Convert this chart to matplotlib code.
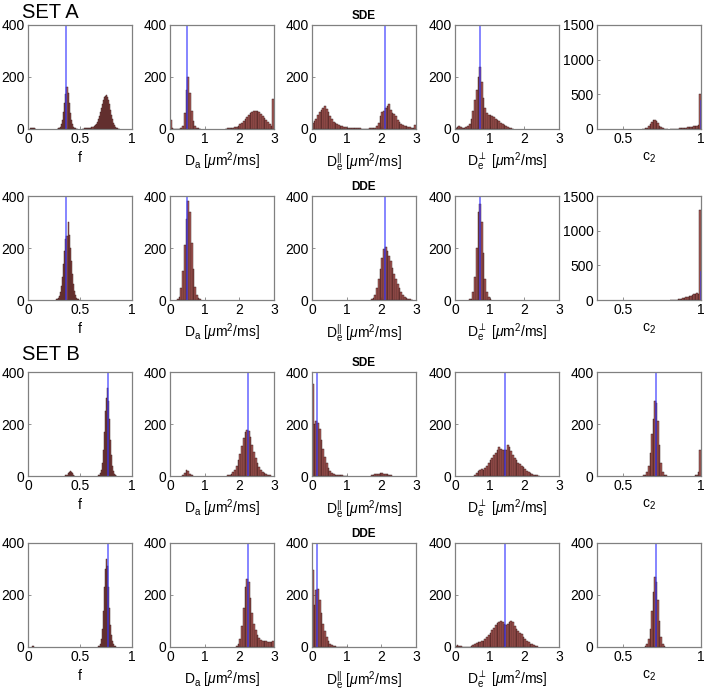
import numpy as np
import matplotlib
matplotlib.use('Agg')
import matplotlib.pyplot as plt

plt.rcParams['font.family'] = ['Liberation Sans', 'DejaVu Sans']
plt.rcParams['mathtext.fontset'] = 'custom'
plt.rcParams['mathtext.rm'] = 'Liberation Sans'
plt.rcParams['mathtext.it'] = 'Liberation Sans:italic'
plt.rcParams['mathtext.fallback'] = 'stixsans'

# ---------- histogram counts: (first bin left edge, counts) segments ----------
BW = {'f': 0.01, 'da': 0.05, 'dpar': 0.05, 'dperp': 0.05, 'c2': 0.01}

# SET A, SDE
a_sde_f = [(0.02, [2, 4, 5, 4, 2, 1]),
           (0.28, [1, 2, 4, 8, 18, 35, 65, 100, 135, 160, 140, 100, 62, 35, 18, 8, 4, 2, 1, 1]),
           (0.52, [1, 1, 2, 2, 2, 3, 3, 4, 5, 6, 8, 10, 14, 20, 28, 38, 50, 64, 80, 96, 110,
                   122, 128, 130, 124, 112, 95, 75, 55, 38, 24, 14, 8, 4, 2, 1])]
a_sde_da = [(0.0, [35, 2, 1, 1, 1, 1, 2, 10, 60, 150, 200, 140, 70, 30, 12, 5, 2, 1]),
            (1.6, [1, 2, 2, 3, 4, 6, 9, 13, 18, 24, 31, 39, 47, 55, 61, 66, 69, 70, 68, 64,
                   58, 50, 42, 34, 26, 18, 10, 115])]
a_sde_dpar = [(0.0, [25, 30, 40, 55, 65, 75, 82, 90, 78, 65, 50, 38, 28, 22, 18, 15, 12, 10, 8, 6,
                     5, 4, 3, 3, 2, 2, 2, 2, 1, 1, 1, 1, 1, 2, 2, 3, 5, 10, 25, 50,
                     65, 70, 80, 88, 95, 75, 62, 58, 50, 35, 28, 20, 15, 12, 10, 8, 6, 5, 4, 15])]
a_sde_dperp = [(0.0, [3, 8, 10, 6, 5, 5, 8, 12, 20, 40, 70, 110, 150, 200, 240, 180, 120, 80, 60,
                      55, 52, 50, 45, 40, 35, 30, 25, 20, 15, 10, 6, 3, 2, 1])]
a_sde_c2 = [(0.62, [1, 3, 8, 20, 42, 75, 105, 125, 130, 110, 80, 48, 25, 10, 4, 2, 1]),
            (0.80, [2, 2, 3, 4, 5, 6, 8, 10, 12, 15, 18, 22, 26, 30, 35, 40, 45, 50, 55, 500])]

# SET A, DDE
a_dde_f = [(0.27, [2, 4, 8, 15, 30, 55, 90, 140, 190, 235, 245, 300, 250, 200, 150, 100, 60, 35,
                   18, 8, 4, 2])]
a_dde_da = [(0.2, [3, 12, 45, 110, 210, 310, 380, 340, 220, 120, 50, 20, 8, 3])]
a_dde_dpar = [(1.7, [2, 8, 20, 45, 80, 120, 160, 195, 205, 190, 170, 150, 125, 100, 80, 60, 45,
                     30, 20, 12, 8, 5, 3, 1])]
a_dde_dperp = [(0.4, [2, 5, 30, 90, 200, 340, 370, 300, 180, 80, 30, 10, 3])]
a_dde_c2 = [(0.80, [1, 2, 3, 4, 6, 9, 13, 18, 24, 31, 38, 46, 55, 64, 73, 82, 92, 105, 90, 1300])]

# SET B, SDE
b_sde_f = [(0.36, [2, 5, 10, 16, 20, 17, 10, 4, 1]),
           (0.67, [2, 4, 10, 25, 50, 100, 170, 250, 300, 340, 290, 220, 140, 80, 40, 18, 8, 3, 1])]
b_sde_da = [(0.35, [4, 12, 25, 18, 8, 2]),
            (1.65, [2, 4, 8, 15, 25, 40, 60, 85, 115, 145, 170, 178, 172, 150, 120, 92, 68, 50,
                    35, 24, 16, 10, 6, 3, 2])]
b_sde_dpar = [(0.0, [355, 200, 210, 205, 180, 140, 105, 75, 50, 32, 20, 12, 8, 5, 4, 3, 2, 2, 1, 1, 1]),
              (1.7, [2, 4, 6, 8, 9, 10, 10, 9, 8, 6, 4, 2])]
b_sde_dperp = [(0.55, [3, 10, 20, 25, 28, 25, 30, 40, 50, 60, 70, 80, 90, 100, 112, 105, 100, 100,
                       100, 120, 110, 95, 80, 70, 60, 50, 45, 40, 35, 28, 20, 15, 10, 8, 5, 3, 2, 1])]
b_sde_c2 = [(0.63, [2, 5, 15, 40, 90, 160, 220, 290, 280, 210, 120, 50, 15, 5, 2]),
            (0.96, [3, 5, 15, 100])]

# SET B, DDE
b_dde_f = [(0.04, [3, 2]),
           (0.67, [2, 5, 12, 30, 70, 140, 230, 300, 340, 310, 230, 150, 85, 45, 22, 10, 5, 2])]
b_dde_da = [(1.9, [3, 10, 30, 80, 150, 230, 260, 250, 190, 130, 90, 65, 45, 35, 28, 25, 22, 22,
                   20, 20, 18, 25])]
b_dde_dpar = [(0.0, [295, 160, 220, 225, 180, 130, 90, 60, 38, 22, 12, 7, 4, 2, 1, 1, 1, 1, 1, 1, 1])]
b_dde_dperp = [(0.0, [2, 8, 4, 2, 1, 1, 1, 1, 1, 3, 8, 12, 15, 18, 20, 22, 25, 30, 38, 45,
                      55, 65, 75, 85, 92, 98, 100, 95, 90, 85, 90, 98, 100, 95, 80, 70, 60, 55, 50, 40,
                      32, 25, 18, 12, 10, 8, 5, 3])]
b_dde_c2 = [(0.64, [3, 10, 30, 70, 140, 210, 270, 250, 180, 100, 40, 12, 4])]

# ground-truth values (blue lines, drawn from 0 to 400 counts)
truth_a = [0.37, 0.50, 2.10, 0.73, 1.0]
truth_b = [0.77, 2.25, 0.15, 1.45, 0.71]
truth_line_top = 400

params = ['f', 'da', 'dpar', 'dperp', 'c2']
xlabels = ['f',
           r'D$_\mathregular{a}$ [$\mu$m$^\mathregular{2}$/ms]',
           r'D$_\mathregular{e}^\mathregular{||}$ [$\mu$m$^\mathregular{2}$/ms]',
           r'D$_\mathregular{e}^{\perp}$ [$\mu$m$^\mathregular{2}$/ms]',
           r'c$_\mathregular{2}$']
xlims = {'f': (0, 1), 'da': (0, 3), 'dpar': (0, 3), 'dperp': (0, 3), 'c2': (1 / 3, 1)}
xticks = {'f': [0, 0.5, 1], 'da': [0, 1, 2, 3], 'dpar': [0, 1, 2, 3], 'dperp': [0, 1, 2, 3],
          'c2': [0.5, 1]}

rows = [
    ([a_sde_f, a_sde_da, a_sde_dpar, a_sde_dperp, a_sde_c2], truth_a, [400, 400, 400, 400, 1500]),
    ([a_dde_f, a_dde_da, a_dde_dpar, a_dde_dperp, a_dde_c2], truth_a, [400, 400, 400, 400, 1500]),
    ([b_sde_f, b_sde_da, b_sde_dpar, b_sde_dperp, b_sde_c2], truth_b, [400] * 5),
    ([b_dde_f, b_dde_da, b_dde_dpar, b_dde_dperp, b_dde_c2], truth_b, [400] * 5),
]

W, H = 709, 694
fig = plt.figure(figsize=(W / 100, H / 100), dpi=100)
col_left = [28, 170, 312, 455, 597]
row_top = [25, 196, 372, 543]
aw, ah = 104, 104

spine_col = '#808080'
face = (0.62, 0.25, 0.24)

for r, (panels, truth, ymaxes) in enumerate(rows):
    for c, p in enumerate(params):
        ax = fig.add_axes([col_left[c] / W, 1 - (row_top[r] + ah) / H, aw / W, ah / H])
        bw = BW[p]
        for start, counts in panels[c]:
            lefts = start + bw * np.arange(len(counts))
            ax.bar(lefts, counts, width=bw, align='edge', color=face, alpha=0.85,
                   edgecolor='#2a1010', linewidth=0.35, zorder=2)
        ax.plot([truth[c], truth[c]], [0, truth_line_top], color='#3535ff', alpha=0.7,
                lw=1.2, zorder=3)
        ax.set_xlim(*xlims[p])
        ax.set_ylim(0, ymaxes[c])
        ax.set_xticks(xticks[p])
        ax.set_xticklabels([f'{t:g}' for t in xticks[p]])
        if ymaxes[c] == 1500:
            ax.set_yticks([0, 500, 1000, 1500])
        else:
            ax.set_yticks([0, 200, 400])
        ax.set_xlabel(xlabels[c], fontsize=10, labelpad=3)
        ax.tick_params(direction='in', length=2.5, width=0.6, color=spine_col,
                       labelsize=10, pad=2.5)
        for s in ax.spines.values():
            s.set_color(spine_col)
            s.set_linewidth(0.9)
            s.set_zorder(4)

fig.text(22 / W, 1 - 12 / H, 'SET A', fontsize=14.5, va='center', ha='left')
fig.text(22 / W, 1 - 355 / H, 'SET B', fontsize=14.5, va='center', ha='left')
for r, lab in zip(range(4), ['SDE', 'DDE', 'SDE', 'DDE']):
    fig.text((col_left[2] + aw / 2) / W, 1 - (row_top[r] - 9) / H, lab, fontsize=8.5,
             fontweight='bold', ha='center', va='center')

fig.savefig('out.png', dpi=100, facecolor='white')
